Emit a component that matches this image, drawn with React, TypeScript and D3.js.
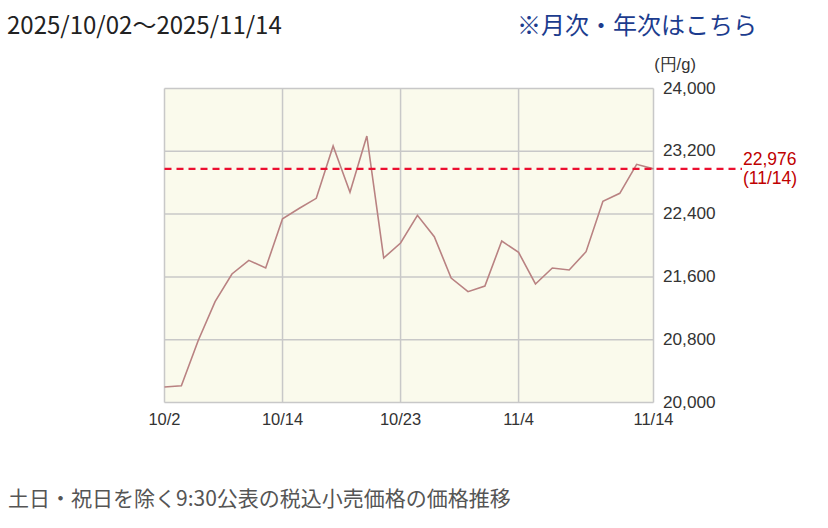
import React from "react";
import * as d3 from "d3";

const dates = [
  "10/2", "10/3", "10/6", "10/7", "10/8", "10/9", "10/10",
  "10/14", "10/15", "10/16", "10/17",
  "10/20", "10/21", "10/22", "10/23", "10/24",
  "10/27", "10/28", "10/29", "10/30", "10/31",
  "11/4", "11/5", "11/6", "11/7",
  "11/10", "11/11", "11/12", "11/13", "11/14",
];
const values = [
  20197, 20214, 20790, 21284, 21637, 21811, 21713,
  22340, 22474, 22601, 23268,
  22678, 23395, 21841, 22032, 22385,
  22112, 21586, 21412, 21484, 22057,
  21912, 21510, 21713, 21688,
  21921, 22563, 22665, 23034, 22976,
];
const xTickLabels = ["10/2", "10/14", "10/23", "11/4", "11/14"];
const yTicks = [20000, 20800, 21600, 22400, 23200, 24000];
const latestValue = 22976;
const latestDate = "11/14";
const titleText = "2025/10/02〜2025/11/14";
const linkText = "※月次・年次はこちら";
const footerText = "土日・祝日を除く9:30公表の税込小売価格の価格推移";
const unitText = "(円/g)";

const W = 828;
const H = 528;
const left = 164.5;
const right = 653.5;
const top = 88.5;
const bottom = 402.5;

export default function App() {
  const x = d3.scaleLinear().domain([0, dates.length - 1]).range([left, right]);
  const y = d3.scaleLinear().domain([20000, 24000]).range([bottom, top]);
  const line = d3
    .line<number>()
    .x((_, i) => x(i))
    .y((d) => y(d));
  const fmt = d3.format(",");
  const tickIdx = xTickLabels.map((l) => dates.indexOf(l));
  const axisFont = "'Liberation Sans', Arial, sans-serif";
  const jpFont = "'Noto Sans CJK JP', sans-serif";

  return (
    <svg
      width={W}
      height={H}
      style={{ position: "absolute", left: 0, top: 0, background: "#fff" }}
    >
      <text x={7} y={34} fontFamily={jpFont} fontSize={24} fill="#222">
        {titleText}
      </text>
      <text x={517} y={34} fontFamily={jpFont} fontSize={24} fill="#1c3c8e">
        {linkText}
      </text>

      <rect x={left} y={top} width={right - left} height={bottom - top} fill="#fafaec" />
      {yTicks.map((t) => (
        <line key={t} x1={left} x2={right} y1={y(t)} y2={y(t)} stroke="#c8c8c8" strokeWidth={1.5} />
      ))}
      {tickIdx.map((i) => (
        <line key={i} x1={x(i)} x2={x(i)} y1={top} y2={bottom} stroke="#c8c8c8" strokeWidth={1.5} />
      ))}

      <path d={line(values) || ""} fill="none" stroke="#b98282" strokeWidth={1.6} />

      <line
        x1={left}
        x2={742}
        y1={y(latestValue)}
        y2={y(latestValue)}
        stroke="#ec1030"
        strokeWidth={2.2}
        strokeDasharray="7,5"
      />
      <text x={743} y={y(latestValue) - 4} fontFamily={axisFont} fontSize={17.5} fill="#c00000">
        {fmt(latestValue)}
      </text>
      <text x={743} y={y(latestValue) + 15} fontFamily={axisFont} fontSize={17.5} fill="#c00000">
        ({latestDate})
      </text>

      {yTicks.map((t) => (
        <text
          key={t}
          x={663}
          y={y(t)}
          dy="0.3em"
          fontFamily={axisFont}
          fontSize={17.2}
          fill="#333"
        >
          {fmt(t)}
        </text>
      ))}
      <text x={675} y={64} dy="0.35em" textAnchor="middle" fontFamily={axisFont} fontSize={16.5} fill="#333">
        {unitText}
      </text>

      {tickIdx.map((i, k) => (
        <text
          key={k}
          x={x(i)}
          y={425}
          textAnchor="middle"
          fontFamily={axisFont}
          fontSize={16.5}
          fill="#333"
        >
          {xTickLabels[k]}
        </text>
      ))}

      <text x={8} y={506} fontFamily={jpFont} fontSize={21} fill="#555">
        {footerText}
      </text>
    </svg>
  );
}
